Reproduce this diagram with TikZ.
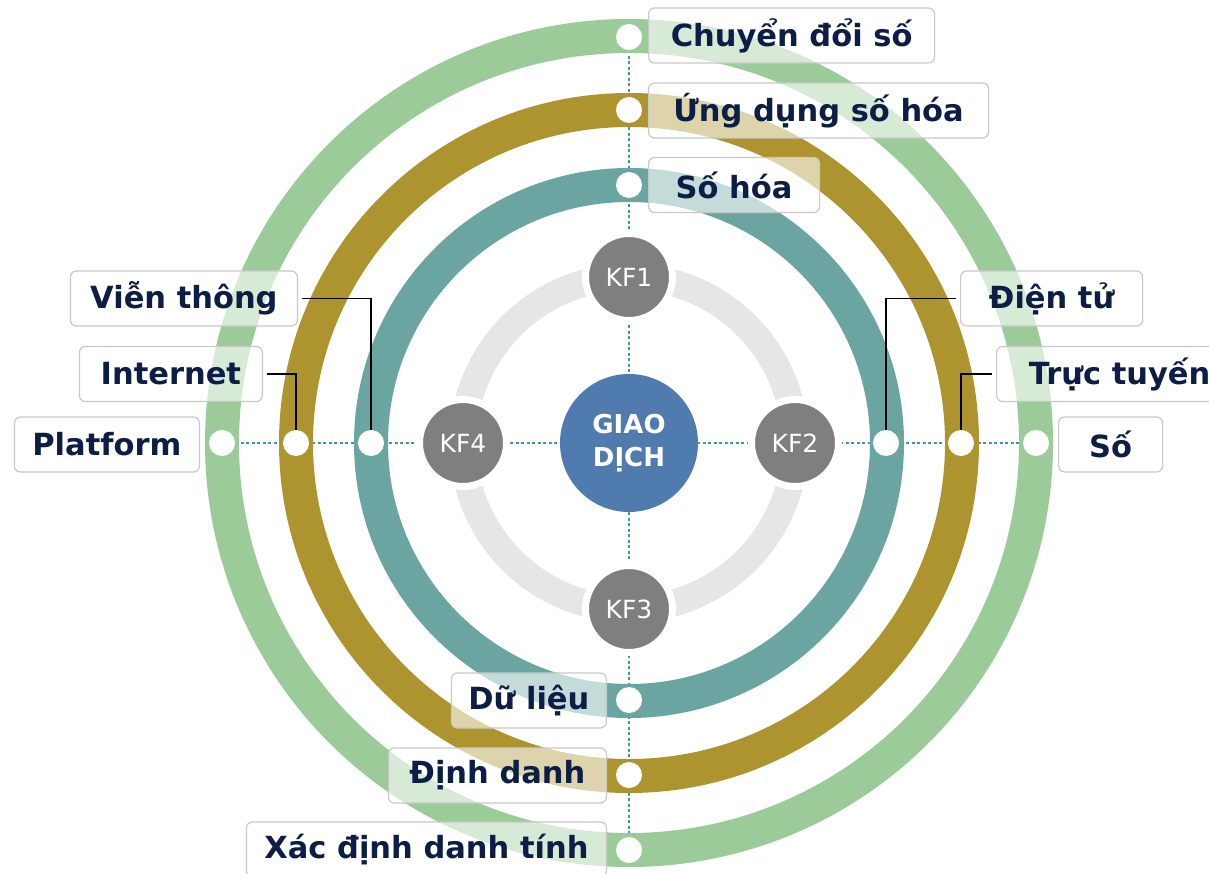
\documentclass[tikz,border=0pt]{standalone}
\usepackage{fontspec}
\setmainfont{DejaVu Sans}
\usetikzlibrary{backgrounds}
\definecolor{ringgreen}{HTML}{9BCB99}
\definecolor{ringgold}{HTML}{AE942F}
\definecolor{ringteal}{HTML}{6AA5A1}
\definecolor{ringgray}{HTML}{E6E6E6}
\definecolor{kfgray}{HTML}{7F7F7F}
\definecolor{coreblue}{HTML}{4F7BAE}
\definecolor{navy}{HTML}{0C1D46}
\definecolor{dotblue}{HTML}{3D8FD0}
\definecolor{boxgray}{HTML}{C8C8C8}

\begin{document}
\begin{tikzpicture}[x=1pt,y=-1pt,
  ring/.style={line width=34pt},
  pin/.style={circle,fill=white,minimum size=26pt,inner sep=0pt},
  kf/.style={circle,fill=kfgray,draw=white,line width=7pt,minimum size=87pt,inner sep=0pt,text=white,font=\fontsize{25}{25}\selectfont},
  lbl/.style={draw=boxgray,line width=1.2pt,rounded corners=6pt,fill=white,fill opacity=0.6,text opacity=1,text=navy,minimum height=55pt,inner xsep=0pt,font=\fontsize{30.5}{31}\selectfont\bfseries},
  dotline/.style={dotblue,line width=2pt,dash pattern=on 3pt off 2.5pt},
  wire/.style={black,line width=1.4pt,shorten <=4pt}]
\useasboundingbox (0,0) rectangle (1209,874);
\coordinate (o) at (629,443);
\draw[ring,ringgreen] (o) circle (407pt);
\draw[ring,ringgold] (o) circle (333pt);
\draw[ring,ringteal] (o) circle (258pt);
\draw[ringgray,line width=27pt] (o) circle (166pt);
\node[circle,fill=coreblue,minimum size=138pt,inner sep=0pt,text=white,align=center,font=\fontsize{26}{33}\selectfont\bfseries] (gd) at (o) {GIAO\\DỊCH};
\node[kf] (kf1) at (629,277) {KF1};
\node[kf] (kf2) at (795,443) {KF2};
\node[kf] (kf3) at (629,609) {KF3};
\node[kf] (kf4) at (463,443) {KF4};
\node[pin] (dcd) at (629,37) {};
\node[pin] (dud) at (629,110) {};
\node[pin] (dsh) at (629,185) {};
\node[pin] (ddl) at (629,700) {};
\node[pin] (ddd) at (629,775) {};
\node[pin] (dxd) at (629,850) {};
\node[pin] (dpl) at (222,443) {};
\node[pin] (din) at (296,443) {};
\node[pin] (dvt) at (371,443) {};
\node[pin] (ddt) at (886,443) {};
\node[pin] (dtt) at (961,443) {};
\node[pin] (dso) at (1036,443) {};
\begin{scope}[on background layer]
\draw[dotline] (dpl) -- (dso);
\draw[dotline] (dcd) -- (dxd);
\end{scope}
\node[lbl,anchor=west,minimum width=286pt] (cd) at (648,35.5) {Chuyển đổi số};
\node[lbl,anchor=west,minimum width=340pt] (ud) at (648,110.5) {Ứng dụng số hóa};
\node[lbl,anchor=west,minimum width=171pt] (sh) at (648,185) {Số hóa};
\node[lbl,anchor=east,minimum width=227pt] (vt) at (298,298.5) {Viễn thông};
\node[lbl,anchor=east,minimum width=183pt] (in) at (263,374) {Internet};
\node[lbl,anchor=east,minimum width=185pt] (pl) at (200,444.5) {Platform};
\node[lbl,anchor=west,minimum width=182pt] (dt) at (960,298.5) {Điện tử};
\node[lbl,anchor=west,minimum width=246pt] (tt) at (996,374) {Trực tuyến};
\node[lbl,anchor=west,minimum width=104pt] (so) at (1058,444.5) {Số};
\node[lbl,anchor=east,minimum width=155pt] (dl) at (607,700.5) {Dữ liệu};
\node[lbl,anchor=east,minimum width=218pt] (dd) at (607,775.5) {Định danh};
\node[lbl,anchor=east,minimum width=360pt] (xd) at (607,849.5) {Xác định danh tính};
\draw[wire] (vt.east) -| (dvt);
\draw[wire] (in.east) -| (din);
\draw[wire] (dt.west) -| (ddt);
\draw[wire] (tt.west) -| (dtt);
\end{tikzpicture}
\end{document}
